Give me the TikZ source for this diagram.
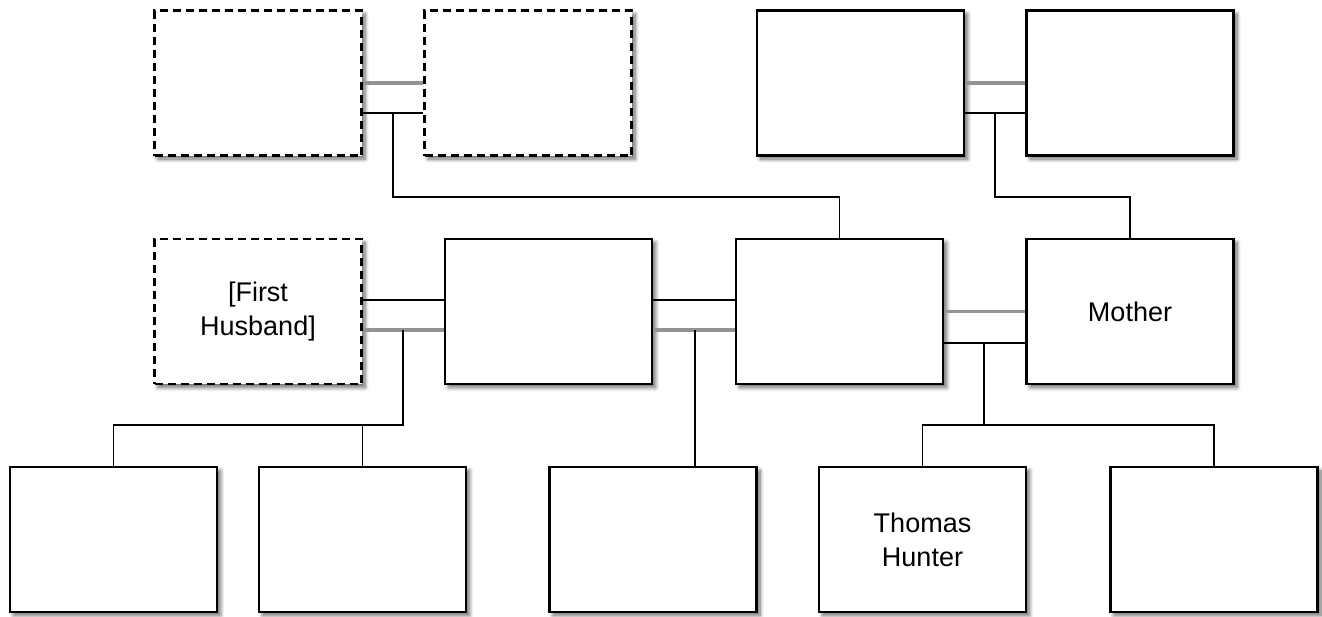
\documentclass[tikz,border=0pt]{standalone}
\usepackage{fontspec}
\setmainfont{Liberation Sans}
\usetikzlibrary{calc,shadows.blur}
\tikzset{
  person/.style={draw=black, line width=2.2pt, fill=white, minimum width=207pt, minimum height=145pt,
    inner sep=0pt, align=center, font=\fontsize{27}{34}\selectfont,
    blur shadow={shadow xshift=3.5pt, shadow yshift=-3.5pt, shadow blur steps=8, shadow blur radius=4pt, shadow opacity=60}},
  unknown/.style={person, dash pattern=on 8pt off 5pt},
  marriage/.style={draw=gray!85, line width=3.5pt},
  kin/.style={draw=black, line width=1.9pt},
}
\begin{document}
\begin{tikzpicture}[x=1pt,y=-1pt]
\useasboundingbox (0,0) rectangle (1322,616);
% nodes
\node[unknown] (A) at (258,83) {};
\node[unknown] (B) at (528,83) {};
\node[person] (C) at (860.5,83) {};
\node[person] (D) at (1130,83) {};
\node[unknown] (FH) at (258,311.5) {[First\\Husband]};
\node[person] (E) at (548.5,311.5) {};
\node[person] (F) at (839.5,311.5) {};
\node[person] (M) at (1130,311.5) {Mother};
\node[person] (b1) at (113.5,539.5) {};
\node[person] (b2) at (362.5,539.5) {};
\node[person] (b3) at (653,539.5) {};
\node[person] (b4) at (922.5,539.5) {Thomas\\Hunter};
\node[person] (b5) at (1214,539.5) {};
% top-left couple
\draw[marriage] (A.east) -- (B.west);
\draw[kin] ([yshift=-30pt]A.east) -- ([yshift=-30pt]B.west);
\coordinate (ab) at ([xshift=30pt,yshift=-30pt]A.east);
\draw[kin] (ab) -- ++(0,84) -| (F.north);
% top-right couple
\draw[marriage] (C.east) -- (D.west);
\draw[kin] ([yshift=-30pt]C.east) -- ([yshift=-30pt]D.west);
\coordinate (cd) at ([xshift=30pt,yshift=-30pt]C.east);
\draw[kin] (cd) -- ++(0,84) -| (M.north);
% first husband - E
\draw[kin] ([yshift=11.5pt]FH.east) -- ([yshift=11.5pt]E.west);
\draw[marriage] ([yshift=-18.5pt]FH.east) -- ([yshift=-18.5pt]E.west);
\coordinate (fe) at ([xshift=40pt,yshift=-18.5pt]FH.east);
\coordinate (fej) at ($(fe)+(0,95)$);
\draw[kin] (fe) -- (fej) -- (fej -| b1.north) -- (b1.north);
\draw[kin] (fej -| b2.north) -- (b2.north);
% E - F
\draw[kin] ([yshift=11.5pt]E.east) -- ([yshift=11.5pt]F.west);
\draw[marriage] ([yshift=-18.5pt]E.east) -- ([yshift=-18.5pt]F.west);
\coordinate (ef) at ([xshift=42pt,yshift=-18.5pt]E.east);
\draw[kin] (ef) -- (ef |- b3.north);
% F - Mother
\draw[marriage] (F.east) -- (M.west);
\draw[kin] ([yshift=-31.5pt]F.east) -- ([yshift=-31.5pt]M.west);
\coordinate (fm) at ([xshift=40pt,yshift=-31.5pt]F.east);
\coordinate (fmj) at ($(fm)+(0,82)$);
\draw[kin] (fm) -- (fmj);
\draw[kin] (b4.north) |- (fmj) -| (b5.north);
\end{tikzpicture}
\end{document}
